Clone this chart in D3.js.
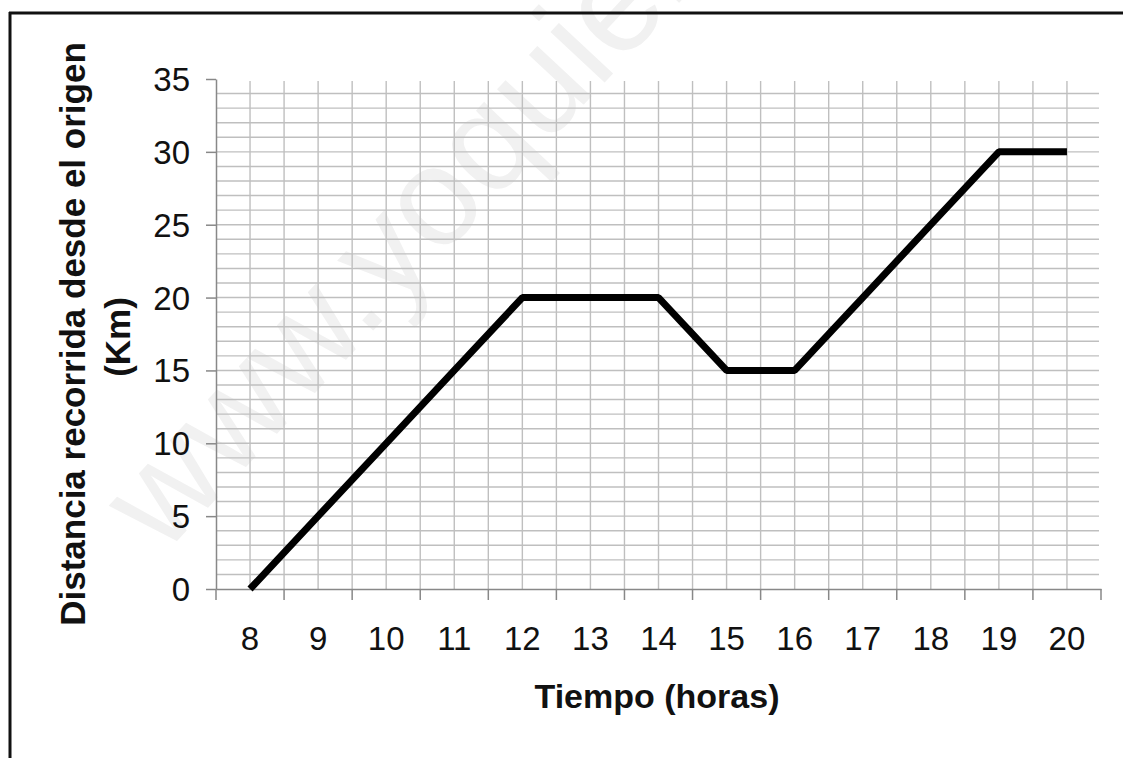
<!DOCTYPE html>
<html>
<head>
<meta charset="utf-8">
<script src="https://cdn.jsdelivr.net/npm/d3@7/dist/d3.min.js"></script>
<style>
  html, body { margin: 0; padding: 0; background: #fff; }
  svg { display: block; }
</style>
</head>
<body>
<svg id="chart" width="1123" height="758"></svg>
<script>
// ---- data ----
const hours = ["8","9","10","11","12","13","14","15","16","17","18","19","20"];
const distance = [0, 5, 10, 15, 20, 20, 20, 15, 15, 20, 25, 30, 30];
const yTicks = [0, 5, 10, 15, 20, 25, 30, 35];
const yTitleLines = ["Distancia recorrida desde el origen", "(Km)"];
const xTitle = "Tiempo (horas)";
const watermark = "www.yoquieroaprobar.es";

const svg = d3.select("#chart");
const font = "'Liberation Sans', Arial, Helvetica, sans-serif";

svg.append("rect").attr("width", 1123).attr("height", 758).attr("fill", "#fff");

// watermark
svg.append("text")
  .attr("transform", "translate(163,556) rotate(-47)")
  .attr("font-family", font).attr("font-size", 140)
  .attr("fill", "#f1f1f1")
  .text(watermark);

// frame (top + left)
svg.append("line").attr("x1", 9).attr("x2", 1123).attr("y1", 13).attr("y2", 13)
  .attr("stroke", "#111").attr("stroke-width", 3);
svg.append("line").attr("x1", 10).attr("x2", 10).attr("y1", 12).attr("y2", 758)
  .attr("stroke", "#111").attr("stroke-width", 3);

const x = d3.scaleBand().domain(hours).range([216, 1101]).padding(0);
const bw = x.bandwidth();
const cx = h => x(h) + bw / 2;
const y = d3.scaleLinear().domain([0, 35]).range([589, 79]);

const grid = svg.append("g").attr("stroke", "#bfbfbf").attr("stroke-width", 1.4);
// horizontal minor gridlines every 1 km
d3.range(1, 35).forEach(v => {
  grid.append("line").attr("x1", 216).attr("x2", 1099)
    .attr("y1", y(v)).attr("y2", y(v));
});
// vertical gridlines at category centres and inner boundaries
const vpos = [];
hours.forEach((h, i) => { if (i > 0) vpos.push(x(h)); vpos.push(cx(h)); });
vpos.forEach(p => {
  grid.append("line").attr("x1", p).attr("x2", p).attr("y1", y(35) + 2).attr("y2", y(0));
});

// y axis
const yAxis = svg.append("g").attr("transform", "translate(216,0)")
  .call(d3.axisLeft(y).tickValues(yTicks).tickSize(10).tickSizeOuter(0).tickPadding(16));
yAxis.select(".domain").attr("stroke", "#888").attr("stroke-width", 1.5);
yAxis.selectAll(".tick line").attr("stroke", "#888").attr("stroke-width", 1.5);
yAxis.selectAll(".tick text").attr("font-family", font).attr("font-size", 33)
  .attr("fill", "#111").attr("dy", "0.35em");

// x axis
const xAxis = svg.append("g").attr("transform", "translate(0,589)")
  .call(d3.axisBottom(x).tickSize(0).tickSizeOuter(0).tickPadding(61));
xAxis.select(".domain").attr("stroke", "#888").attr("stroke-width", 1.5);
xAxis.selectAll(".tick text").attr("font-family", font).attr("font-size", 33)
  .attr("fill", "#111").attr("dy", "0");
const bounds = hours.map(h => x(h)).concat([x(hours[hours.length - 1]) + bw]);
xAxis.selectAll(".bt").data(bounds).enter().append("line")
  .attr("x1", d => d).attr("x2", d => d).attr("y1", 0).attr("y2", 11)
  .attr("stroke", "#888").attr("stroke-width", 1.5);

// data line
const line = d3.line().x((d, i) => cx(hours[i])).y(d => y(d));
svg.append("path").datum(distance)
  .attr("d", line).attr("fill", "none")
  .attr("stroke", "#000").attr("stroke-width", 7)
  .attr("stroke-linejoin", "bevel").attr("stroke-linecap", "butt");

// axis titles
svg.append("text").attr("x", 657).attr("y", 708)
  .attr("text-anchor", "middle").attr("font-family", font)
  .attr("font-size", 34).attr("font-weight", "bold").attr("fill", "#111")
  .text(xTitle);

svg.append("text").attr("transform", "translate(85,334) rotate(-90)")
  .attr("text-anchor", "middle").attr("font-family", font)
  .attr("font-size", 35).attr("font-weight", "bold").attr("fill", "#111")
  .text(yTitleLines[0]);
svg.append("text").attr("transform", "translate(130,337) rotate(-90)")
  .attr("text-anchor", "middle").attr("font-family", font)
  .attr("font-size", 35).attr("font-weight", "bold").attr("fill", "#111")
  .text(yTitleLines[1]);
</script>
</body>
</html>
